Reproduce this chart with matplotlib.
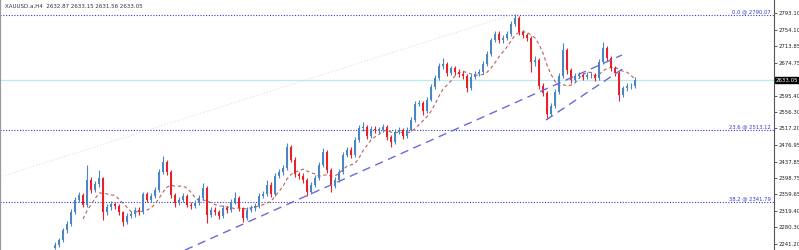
import numpy as np
import matplotlib
matplotlib.use("Agg")
import matplotlib.pyplot as plt
import matplotlib.transforms as mtransforms

# XAUUSD H4 - цены закрытия, максимумы и минимумы
closes = [2238, 2250, 2274, 2288, 2317, 2346, 2358, 2334, 2394, 2370,
          2384, 2398, 2317, 2329, 2336, 2331, 2317, 2293, 2308, 2312,
          2322, 2317, 2360, 2346, 2356, 2370, 2413, 2437, 2413, 2358,
          2339, 2346, 2356, 2334, 2331, 2339, 2351, 2375, 2310, 2322,
          2317, 2308, 2327, 2322, 2341, 2351, 2327, 2303, 2322, 2327,
          2331, 2356, 2360, 2382, 2360, 2403, 2413, 2423, 2473, 2442,
          2408, 2403, 2394, 2365, 2382, 2398, 2430, 2461, 2418, 2380,
          2394, 2413, 2454, 2466, 2454, 2490, 2518, 2521, 2499, 2516,
          2514, 2514, 2521, 2497, 2485, 2509, 2514, 2499, 2514, 2538,
          2576, 2578, 2559, 2586, 2617, 2638, 2667, 2672, 2650, 2662,
          2653, 2648, 2643, 2614, 2641, 2648, 2653, 2672, 2696, 2729,
          2744, 2729, 2734, 2744, 2768, 2782, 2748, 2741, 2734, 2677,
          2681, 2619, 2602, 2552, 2571, 2605, 2643, 2705, 2657, 2633,
          2643, 2645, 2641, 2645, 2645, 2638, 2677, 2710, 2686, 2662,
          2650, 2597, 2614, 2619, 2619, 2633.05]
highs = [2246, 2256, 2280, 2296, 2324, 2352, 2366, 2362, 2430, 2400,
         2392, 2418, 2402, 2336, 2344, 2342, 2336, 2320, 2314, 2320,
         2328, 2328, 2366, 2364, 2362, 2378, 2420, 2451, 2442, 2418,
         2362, 2354, 2363, 2360, 2340, 2346, 2358, 2387, 2380, 2330,
         2328, 2322, 2334, 2332, 2348, 2365, 2356, 2330, 2328, 2334,
         2338, 2362, 2368, 2394, 2388, 2410, 2420, 2430, 2482, 2478,
         2448, 2414, 2410, 2398, 2390, 2405, 2436, 2470, 2465, 2422,
         2400, 2420, 2460, 2474, 2472, 2497, 2526, 2533, 2526, 2522,
         2522, 2521, 2528, 2525, 2502, 2515, 2520, 2518, 2520, 2545,
         2582, 2586, 2583, 2592, 2624, 2645, 2674, 2686, 2677, 2668,
         2668, 2659, 2654, 2647, 2647, 2655, 2660, 2678, 2703, 2735,
         2751, 2750, 2741, 2751, 2775, 2791.5, 2787, 2754, 2747, 2738,
         2690, 2686, 2625, 2606, 2578, 2612, 2650, 2722, 2710, 2662,
         2650, 2652, 2651, 2652, 2652, 2651, 2684, 2724, 2714, 2690,
         2667, 2654, 2620, 2626, 2626, 2640]
lows = [2228, 2233, 2246, 2268, 2284, 2312, 2340, 2328, 2330, 2362,
        2365, 2378, 2298, 2310, 2322, 2324, 2310, 2284, 2288, 2302,
        2306, 2310, 2312, 2340, 2340, 2350, 2366, 2408, 2406, 2350,
        2330, 2334, 2340, 2328, 2324, 2326, 2334, 2346, 2291, 2304,
        2310, 2300, 2303, 2315, 2318, 2336, 2320, 2293, 2298, 2316,
        2320, 2326, 2350, 2355, 2354, 2356, 2398, 2406, 2418, 2436,
        2400, 2396, 2386, 2355, 2360, 2376, 2394, 2425, 2410, 2365,
        2374, 2388, 2408, 2448, 2446, 2450, 2485, 2512, 2492, 2494,
        2506, 2507, 2508, 2490, 2473, 2480, 2503, 2492, 2494, 2510,
        2533, 2570, 2549, 2554, 2582, 2612, 2633, 2660, 2644, 2645,
        2646, 2641, 2636, 2605, 2610, 2636, 2642, 2648, 2667, 2691,
        2724, 2722, 2723, 2729, 2739, 2762, 2740, 2734, 2727, 2653,
        2668, 2612, 2594, 2540, 2546, 2566, 2600, 2638, 2648, 2626,
        2628, 2637, 2634, 2635, 2638, 2630, 2633, 2672, 2679, 2655,
        2643, 2583, 2592, 2608, 2612, 2614]
first_open = 2232

# уровни Фибоначчи и текущая цена
fib_levels = [2790.07, 2513.12, 2341.79]
fib_names = ["0.0", "23.6", "38.2"]
bid = 2633.05
tick_values = [2793.10, 2754.10, 2713.85, 2674.75, 2595.40, 2556.30, 2517.20,
               2476.95, 2437.85, 2398.75, 2359.65, 2319.40, 2280.30, 2241.20]

# трендовые линии (индекс свечи, цена)
trend_main = ([32.5, 141.75], [2226.0, 2693.2])
trend_channel = ([122.75, 142.25], [2537.5, 2662.1])
fib_diag = ([-13.75, 114.75], [2401.0, 2791.5])

n = len(closes)
idx = np.arange(n)
opens = [first_open] + closes[:-1]

fig = plt.figure(figsize=(7.99, 2.5), dpi=100)
ax = fig.add_axes([0, 0, 774 / 799, 1])
ax.set_xlim(-13.75, 179.75)
ax.set_ylim(2226.1, 2825.0)

up_col = "#4a86c4"
dn_col = "#e8202a"

# горизонтальные уровни
for lvl, name in zip(fib_levels, fib_names):
    ax.axhline(lvl, color="#3a3ad0", lw=0.8, ls=(0, (1, 1.5)), zorder=1)
    ax.text(179.0, lvl + 1.5, f"{name} @ {lvl:.2f}", color="#3a3ad0",
            fontsize=3.8, ha="right", va="bottom")
ax.axhline(bid, color="#b8ecf2", lw=0.9, zorder=1)

ax.plot(*fib_diag, color="#d8d8d8", lw=0.7, ls=(0, (1, 2)), zorder=1)

# свечи
for i in range(n):
    o, c = opens[i], closes[i]
    col = up_col if c >= o else dn_col
    ax.vlines(i, lows[i], highs[i], color=col, lw=0.8, zorder=3)
    ax.bar(i, max(abs(c - o), 0.8), bottom=min(o, c), width=0.6,
           color=col, lw=0, zorder=3)

# скользящая средняя
ma = np.convolve(closes, np.ones(8) / 8, mode="valid")
ax.plot(idx[7:], ma, color="#b86060", lw=0.8, ls=(0, (3, 2.5)), zorder=2)

ax.plot(*trend_main, color="#6a6ad8", lw=1.0, ls=(0, (6, 4)), zorder=4)
ax.plot(*trend_channel, color="#6a6ad8", lw=1.0, ls=(0, (6, 4)), zorder=4)

# ось цены справа
ax.yaxis.tick_right()
ax.set_yticks(tick_values)
ax.set_yticklabels([f"{v:.2f}" for v in tick_values], fontsize=3.9,
                   color="#222222")
ax.tick_params(axis="y", length=2, width=0.6, pad=1, color="#444444")
ax.set_xticks([])
for s in ["top", "bottom"]:
    ax.spines[s].set_visible(False)
ax.spines["right"].set_color("#555555")
ax.spines["right"].set_linewidth(0.8)
ax.spines["left"].set_color("#9a9a9a")
ax.spines["left"].set_linewidth(1.6)

trans = mtransforms.blended_transform_factory(ax.transAxes, ax.transData)
ax.text(1.002, bid, f"{bid:.2f}", transform=trans, fontsize=3.9, color="white",
        ha="left", va="center",
        bbox=dict(boxstyle="square,pad=0.15", fc="black", ec="black"))

ax.text(0.006, 0.985, "XAUUSD.a,H4  2632.87 2633.15 2631.56 2633.05",
        transform=ax.transAxes, fontsize=4.0, color="#333333",
        ha="left", va="top")

fig.savefig("out.png", dpi=100)
